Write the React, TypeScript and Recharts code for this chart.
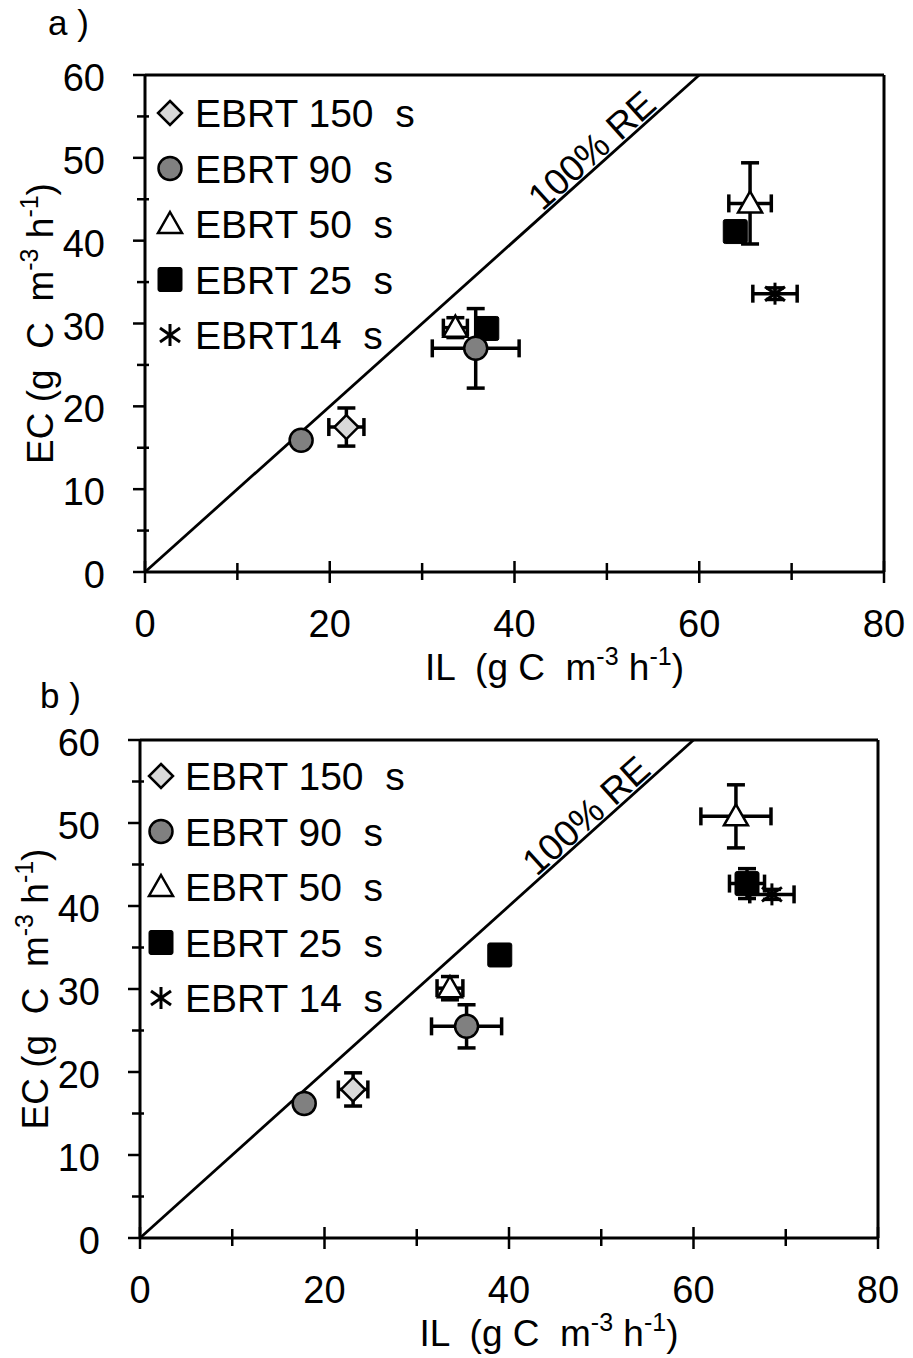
import React from 'react';
import {
  ScatterChart,
  Scatter,
  XAxis,
  YAxis,
  ErrorBar,
  ReferenceLine,
  ReferenceDot,
  Legend,
} from 'recharts';

const FONT = '"Liberation Sans", Arial, Helvetica, sans-serif';

// ---------- tick values ----------
const xTicks = [0, 10, 20, 30, 40, 50, 60, 70, 80];
const yTicks = [0, 5, 10, 15, 20, 25, 30, 35, 40, 45, 50, 55, 60];

// ---------- legend labels ----------
const seriesNamesA = ['EBRT 150  s', 'EBRT 90  s', 'EBRT 50  s', 'EBRT 25  s', 'EBRT14  s'];
const seriesNamesB = ['EBRT 150  s', 'EBRT 90  s', 'EBRT 50  s', 'EBRT 25  s', 'EBRT 14  s'];
const seriesKinds = ['diamond', 'circle', 'triangle', 'square', 'star'];

// ---------- panel a data (IL, EC, error IL, error EC) ----------
const a150 = [{ x: 21.8, y: 17.5, ex: 1.9, ey: 2.3 }];
const a90 = [
  { x: 16.9, y: 15.9, ex: 0.5, ey: 0.5 },
  { x: 35.8, y: 27.0, ex: 4.7, ey: 4.8 },
];
const a50 = [
  { x: 33.6, y: 29.5, ex: 1.3, ey: 1.2 },
  { x: 65.5, y: 44.5, ex: 2.3, ey: 4.9 },
];
const a25 = [
  { x: 37.0, y: 29.4, ex: 0.8, ey: 0.8 },
  { x: 63.9, y: 41.1, ex: 0.6, ey: 0.6 },
];
const a14 = [{ x: 68.2, y: 33.6, ex: 2.4, ey: 0.7 }];

// ---------- panel b data ----------
const b150 = [{ x: 23.1, y: 17.9, ex: 1.6, ey: 2.0 }];
const b90 = [
  { x: 17.8, y: 16.2, ex: 0.6, ey: 0.6 },
  { x: 35.4, y: 25.5, ex: 3.8, ey: 2.6 },
];
const b50 = [
  { x: 33.6, y: 30.1, ex: 1.4, ey: 1.4 },
  { x: 64.6, y: 50.8, ex: 3.8, ey: 3.8 },
];
const b25 = [
  { x: 39.0, y: 34.1, ex: 0.7, ey: 0.7 },
  { x: 65.8, y: 42.7, ex: 1.9, ey: 1.8 },
];
const b14 = [{ x: 68.5, y: 41.4, ex: 2.4, ey: 0.6 }];

// 100% RE line end points and label anchor
const reLine = [
  { x: 0, y: 0 },
  { x: 60, y: 60 },
];
const reLabelAt = 49.5;

function Marker({ kind, cx, cy }: { kind: string; cx: number; cy: number }) {
  const sw = 2.5;
  switch (kind) {
    case 'diamond':
      return (
        <polygon
          points={`${cx},${cy - 12} ${cx + 12},${cy} ${cx},${cy + 12} ${cx - 12},${cy}`}
          fill="#d9d9d9"
          stroke="#000"
          strokeWidth={sw}
        />
      );
    case 'circle':
      return <circle cx={cx} cy={cy} r={11.5} fill="#808080" stroke="#000" strokeWidth={sw} />;
    case 'triangle':
      return (
        <polygon
          points={`${cx},${cy - 12} ${cx + 12},${cy + 9} ${cx - 12},${cy + 9}`}
          fill="#fff"
          stroke="#000"
          strokeWidth={sw}
        />
      );
    case 'square':
      return <rect x={cx - 12} y={cy - 12} width={24} height={24} rx={2} fill="#000" stroke="#000" strokeWidth={1} />;
    case 'star':
      return (
        <g stroke="#000" strokeWidth={3}>
          <line x1={cx - 10} y1={cy - 7} x2={cx + 10} y2={cy + 7} />
          <line x1={cx - 10} y1={cy + 7} x2={cx + 10} y2={cy - 7} />
          <line x1={cx} y1={cy - 11} x2={cx} y2={cy + 11} />
        </g>
      );
    default:
      return null;
  }
}

const XTick = (props: any) => {
  const { x, y, payload } = props;
  const v = payload.value;
  const major = v % 20 === 0;
  return (
    <g>
      <line x1={x} x2={x} y1={y - (major ? 11 : 9)} y2={y + (major ? 11 : 8)} stroke="#000" strokeWidth={2.5} />
      {major && (
        <text x={x} y={y + 65} textAnchor="middle" fontSize={38} fontFamily={FONT} fill="#000">
          {v}
        </text>
      )}
    </g>
  );
};

const YTick = (props: any) => {
  const { x, y, payload } = props;
  const v = payload.value;
  const major = v % 10 === 0;
  return (
    <g>
      <line x1={major ? x - 12 : x - 8} x2={major ? x : x + 4} y1={y} y2={y} stroke="#000" strokeWidth={2.5} />
      {major && (
        <text x={x - 40} y={y + 16} textAnchor="end" fontSize={38} fontFamily={FONT} fill="#000">
          {v}
        </text>
      )}
    </g>
  );
};

const Unit = ({ gap }: { gap: string }) => (
  <>
    <tspan>{`g${gap}C  m`}</tspan>
    <tspan fontSize={25} dy={-15}>
      -3
    </tspan>
    <tspan dy={15}>{' h'}</tspan>
    <tspan fontSize={25} dy={-15}>
      -1
    </tspan>
    <tspan dy={15}>)</tspan>
  </>
);

const XTitle = (props: any) => {
  const vb = props.viewBox;
  const cx = vb.x + vb.width / 2 + 40;
  return (
    <text x={cx} y={vb.y + 108} textAnchor="middle" fontSize={37} fontFamily={FONT} fill="#000" xmlSpace="preserve">
      <tspan>{'IL  ('}</tspan>
      <Unit gap=" " />
    </text>
  );
};

const YTitle = (props: any) => {
  const vb = props.viewBox;
  const ax = vb.x + vb.width;
  const cy = vb.y + vb.height / 2;
  return (
    <text
      transform={`translate(${ax - 92},${cy}) rotate(-90)`}
      textAnchor="middle"
      fontSize={37}
      fontFamily={FONT}
      fill="#000"
      xmlSpace="preserve"
    >
      <tspan>{'EC ('}</tspan>
      <Unit gap="  " />
    </text>
  );
};

const RELabel = (props: any) => {
  const vb = props.viewBox;
  return (
    <text
      transform={`translate(${vb.x},${vb.y}) rotate(-42)`}
      dy={-3}
      textAnchor="middle"
      fontSize={37}
      fontFamily={FONT}
      fill="#000"
    >
      100% RE
    </text>
  );
};

type PanelProps = {
  names: string[];
  series: any[][];
  order: number[];
  width: number;
  height: number;
  margin: { top: number; right: number; bottom: number; left: number };
  legendMarkerX: number;
  legendTextX: number;
  legendBaseline0: number;
  legendStep: number;
};

function Panel(p: PanelProps) {
  const legendContent = () => (
    <svg width={p.width} height={420} style={{ overflow: 'visible', display: 'block' }}>
      {p.names.map((n, i) => {
        const base = p.legendBaseline0 + i * p.legendStep;
        return (
          <g key={n}>
            <Marker kind={seriesKinds[i]} cx={p.legendMarkerX} cy={base - 14} />
            <text x={p.legendTextX} y={base} fontSize={39} fontFamily={FONT} fill="#000" xmlSpace="preserve">
              {n}
            </text>
          </g>
        );
      })}
    </svg>
  );

  const axisLine = { stroke: '#000', strokeWidth: 3 };

  return (
    <ScatterChart width={p.width} height={p.height} margin={p.margin}>
      <XAxis
        type="number"
        dataKey="x"
        domain={[0, 80]}
        ticks={xTicks}
        interval={0}
        height={60}
        tickSize={0}
        tickMargin={0}
        tickLine={false}
        tick={<XTick />}
        axisLine={axisLine}
        label={{ content: <XTitle /> }}
        allowDataOverflow
      />
      <YAxis
        type="number"
        dataKey="y"
        domain={[0, 60]}
        ticks={yTicks}
        interval={0}
        width={60}
        tickSize={0}
        tickMargin={0}
        tickLine={false}
        tick={<YTick />}
        axisLine={axisLine}
        label={{ content: <YTitle /> }}
        allowDataOverflow
      />
      <ReferenceLine y={60} stroke="#000" strokeWidth={3} />
      <ReferenceLine x={80} stroke="#000" strokeWidth={3} />
      <ReferenceLine segment={reLine} stroke="#000" strokeWidth={2.8} />
      <ReferenceDot x={reLabelAt} y={reLabelAt} r={0} fill="none" stroke="none" label={{ content: <RELabel /> }} />
      {p.order.map((i) => (
        <Scatter
          key={p.names[i]}
          name={p.names[i]}
          data={p.series[i]}
          isAnimationActive={false}
          shape={(sp: any) => <Marker kind={seriesKinds[i]} cx={sp.cx} cy={sp.cy} />}
        >
          <ErrorBar dataKey="ex" direction="x" width={9} stroke="#000" strokeWidth={3.5} isAnimationActive={false} />
          <ErrorBar dataKey="ey" direction="y" width={9} stroke="#000" strokeWidth={3.5} isAnimationActive={false} />
        </Scatter>
      ))}
      <Legend
        layout="horizontal"
        verticalAlign="middle"
        align="center"
        wrapperStyle={{ position: 'absolute', left: 0, top: 0, width: p.width, height: 0, margin: 0 }}
        content={legendContent}
      />
    </ScatterChart>
  );
}

export default function App() {
  return (
    <div style={{ position: 'absolute', left: 0, top: 0, width: 913, height: 1358, background: '#fff' }}>
      <div style={{ position: 'absolute', left: 0, top: 0 }}>
        <Panel
          names={seriesNamesA}
          series={[a150, a90, a50, a25, a14]}
          order={[0, 2, 3, 4, 1]}
          width={913}
          height={700}
          margin={{ top: 75, right: 29, bottom: 68, left: 85 }}
          legendMarkerX={170}
          legendTextX={195}
          legendBaseline0={127}
          legendStep={55.5}
        />
      </div>
      <div style={{ position: 'absolute', left: 0, top: 665 }}>
        <Panel
          names={seriesNamesB}
          series={[b150, b90, b50, b25, b14]}
          order={[0, 2, 3, 4, 1]}
          width={913}
          height={693}
          margin={{ top: 75, right: 35, bottom: 60, left: 80 }}
          legendMarkerX={161}
          legendTextX={185}
          legendBaseline0={125}
          legendStep={55.5}
        />
      </div>
      <svg
        width={913}
        height={1358}
        style={{ position: 'absolute', left: 0, top: 0, pointerEvents: 'none', overflow: 'visible' }}
      >
        <text x={48} y={35} fontSize={35} fontFamily={FONT} fill="#000" xmlSpace="preserve">
          {'a )'}
        </text>
        <text x={40} y={708} fontSize={35} fontFamily={FONT} fill="#000" xmlSpace="preserve">
          {'b )'}
        </text>
      </svg>
    </div>
  );
}
